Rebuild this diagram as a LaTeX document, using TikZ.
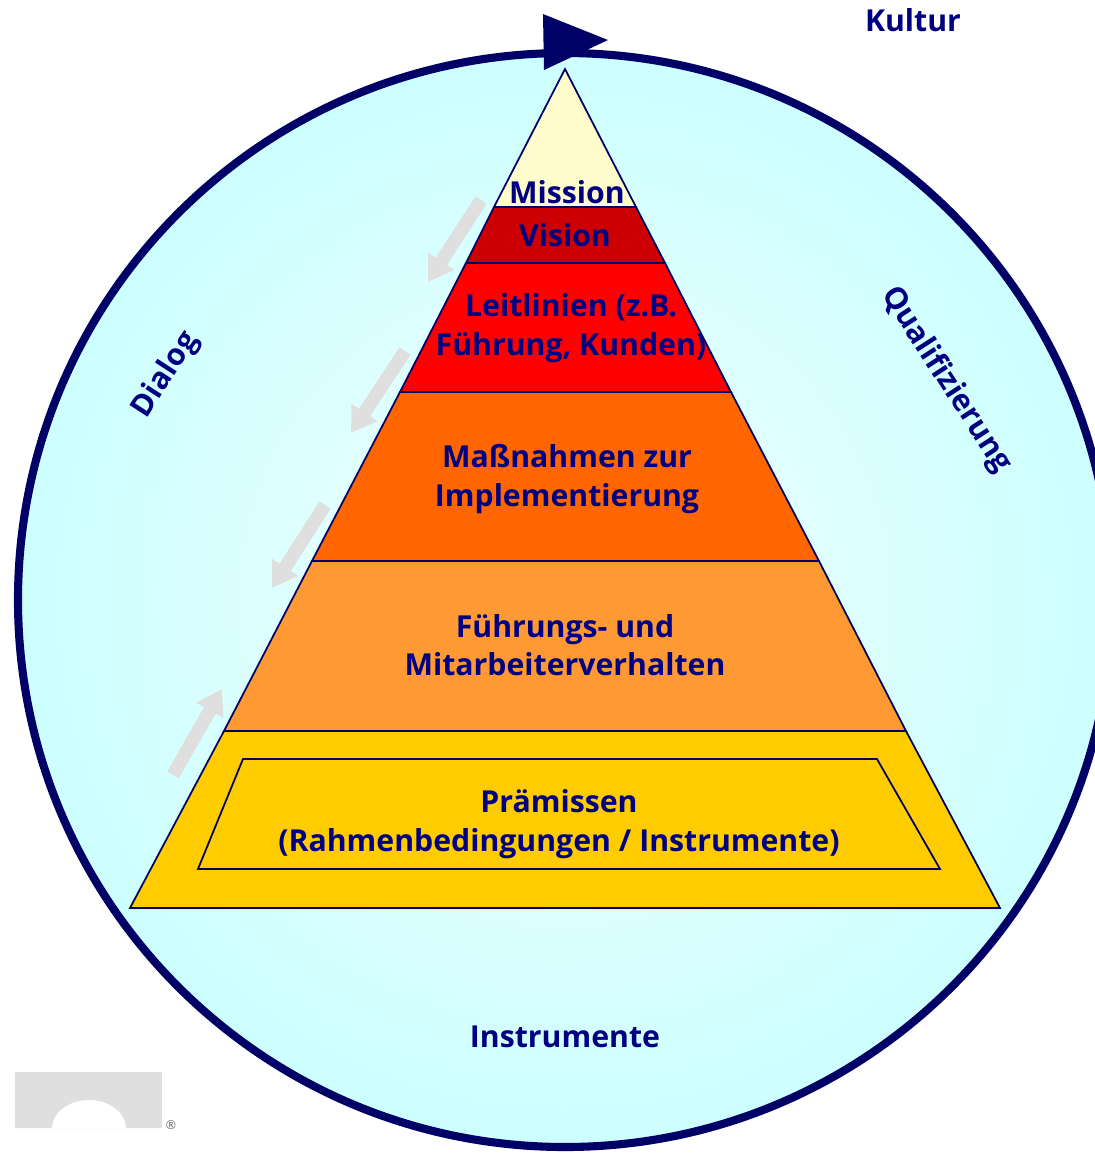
\documentclass[tikz,border=0pt]{standalone}
\usepackage{fontspec}
\setmainfont{Open Sans}
\usetikzlibrary{arrows.meta}
\definecolor{ringblue}{HTML}{000066}
\definecolor{labelblue}{HTML}{000080}
\definecolor{ringfill}{HTML}{CCFFFF}
\definecolor{ringcentre}{HTML}{F2FFFF}
\definecolor{shiftgray}{HTML}{DFDFDF}
\tikzset{
  layer/.style={draw=ringblue,line width=0.5pt,line join=miter},
  lbl/.style={text=labelblue,font=\fontsize{8.6}{11}\selectfont\bfseries,align=center,inner sep=0pt},
  shiftarrow/.style={draw=shiftgray,line width=3.8pt,-{Triangle[length=7pt,width=8.4pt]}}
}
\begin{document}
\begin{tikzpicture}[x=0.01cm,y=-0.01cm]
        \useasboundingbox (0,0) rectangle (1095,1159);
        \clip (0,0) rectangle (1095,1159);

        % ring
        \shade[inner color=ringcentre,outer color=ringfill] (565,600) circle [radius=547];
        \draw[ringblue,line width=2.3pt] (565,600) circle [radius=547];
        \fill[ringblue] (543,14)--(608,40)--(544,70)--cycle;

        % pyramid
        \draw[layer,fill=yellow!20] (565,69)--(636,207)--(494,207)--cycle;
        \draw[layer,fill={rgb,255:red,204;green,0;blue,0}] (494,207)--(636,207)--(665,263)--(466,263)--cycle;
        \draw[layer,fill=red] (466,263)--(665,263)--(731,392)--(400,392)--cycle;
        \draw[layer,fill={rgb,255:red,255;green,102;blue,0}] (400,392)--(731,392)--(819,561)--(312,561)--cycle;
        \draw[layer,fill={rgb,255:red,255;green,153;blue,51}] (312,561)--(819,561)--(906,731)--(224,731)--cycle;
        \draw[layer,fill={rgb,255:red,255;green,204;blue,0}] (224,731)--(906,731)--(1000,908)--(130,908)--cycle;
        \draw[layer,fill={rgb,255:red,255;green,204;blue,0}] (243,759)--(877,759)--(940,869)--(198,869)--cycle;

        % shift arrows
        \foreach \n/\xa/\ya/\xb/\yb in {one/481/200/428/282,two/405/351/351/433,three/325/505/272/588,four/173/775/222/689}{
          \coordinate (tail\n) at (\xa,\ya);
          \coordinate (tip\n) at (\xb,\yb);
          \draw[shiftarrow] (tail\n)--(tip\n);
        }

        \node[lbl] (mission) at (567,192) {Mission};
        \node[lbl] (vision) at (565,235) {Vision};
        \node[lbl] (leitlinien) at (571,328) {Leitlinien (z.B.\\Führung, Kunden)};
        \node[lbl] (massnahmen) at (567,479) {Maßnahmen zur\\Implementierung};
        \node[lbl] (verhalten) at (565,645) {Führungs- und\\Mitarbeiterverhalten};
        \node[lbl] (praemissen) at (559,824) {Prämissen\\(Rahmenbedingungen / Instrumente)};
        \node[lbl] (instrumente) at (565,1037) {Instrumente};
        \node[lbl] (kultur) at (913,20) {Kultur};
        \node[lbl,rotate=57] (dialog) at (166,375) {Dialog};
        \node[lbl,rotate=-57] (qualifizierung) at (946,380) {Qualifizierung};

        % logo
        \fill[shiftgray,even odd rule] (15,1072) rectangle (162,1128)
          (52,1128) arc [start angle=180,end angle=0,x radius=37,y radius=-28]--cycle;
        \node[text=black!60,font=\fontsize{3.5}{4}\selectfont,inner sep=0pt] (reg) at (171,1125) {®};
      \end{tikzpicture}
\end{document}
